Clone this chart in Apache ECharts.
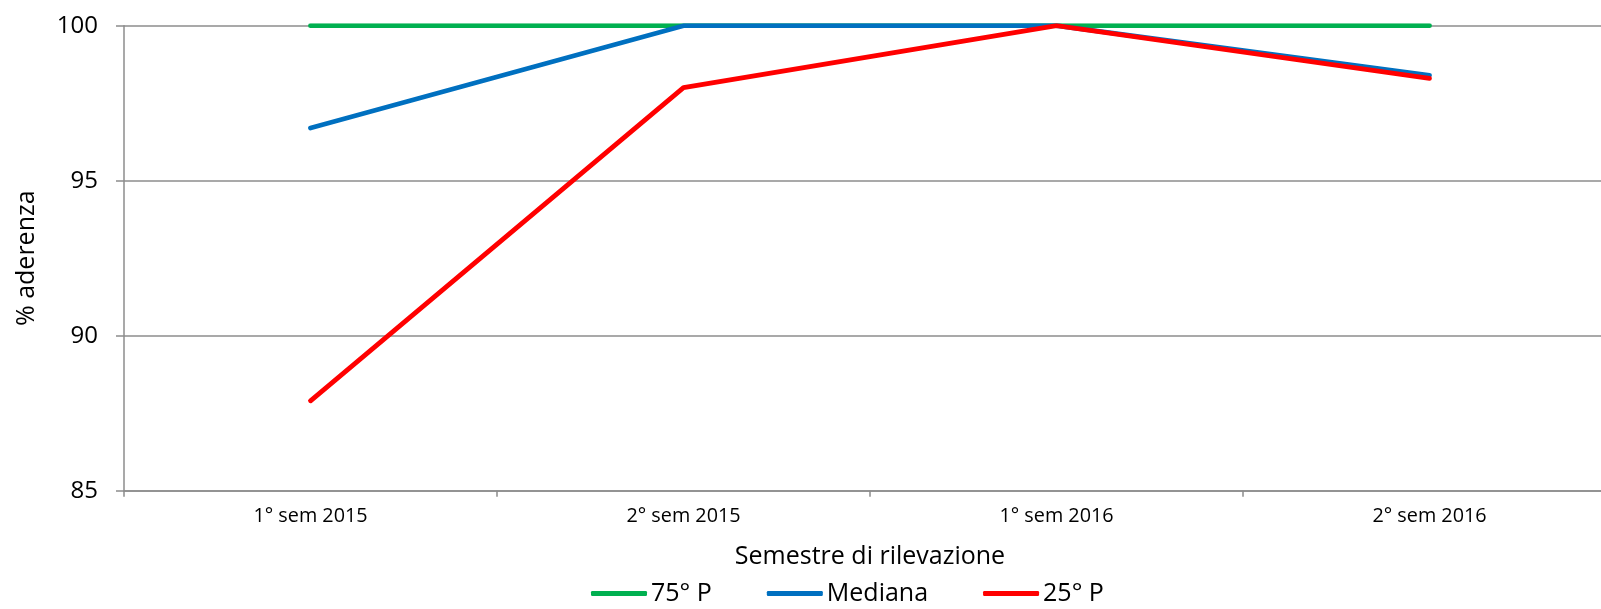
<!DOCTYPE html>
<html><head><meta charset="utf-8">
<script src="https://cdn.jsdelivr.net/npm/echarts@6/dist/echarts.min.js"></script>
<style>html,body{margin:0;padding:0;background:#fff}#c{width:1601px;height:609px}</style>
</head><body><div id="c"></div>
<script>
const categories = ['1° sem 2015', '2° sem 2015', '1° sem 2016', '2° sem 2016'];
const p75 = [100, 100, 100, 100];
const mediana = [96.7, 100, 100, 98.4];
const p25 = [87.9, 98.0, 100, 98.3];
const yTicks = [85, 90, 95, 100];
const seriesNames = ['75° P', 'Mediana', '25° P'];
const colors = ['#00B050', '#0070C0', '#FF0000'];

const font = '"Open Sans", "Noto Sans", sans-serif';
const chart = echarts.init(document.getElementById('c'));
const mk = (name, data, color, z) => ({
  name, type: 'line', data, showSymbol: false, symbol: 'none', z,
  lineStyle: { color, width: 4.8, cap: 'round', join: 'round' },
  itemStyle: { color }, emphasis: { disabled: true }, animation: false
});
chart.setOption({
  animation: false,
  grid: { left: 124, top: 25.7, width: 1492, height: 465, containLabel: false, outerBoundsMode: 'none' },
  xAxis: {
    type: 'category', data: categories, boundaryGap: true,
    name: 'Semestre di rilevazione', nameLocation: 'middle', nameGap: 54,
    nameTextStyle: { fontFamily: font, fontSize: 25, color: '#000' },
    axisLine: { lineStyle: { color: '#8c8c8c', width: 1.5 } },
    axisTick: { show: true, length: 6, lineStyle: { color: '#8c8c8c', width: 1.5 }, alignWithLabel: false },
    axisLabel: { fontFamily: font, fontSize: 19.8, color: '#000', margin: 16 }
  },
  yAxis: {
    type: 'value', min: yTicks[0], max: yTicks[yTicks.length - 1], interval: 5,
    name: '% aderenza', nameLocation: 'middle', nameGap: 85, nameRotate: 90,
    nameTextStyle: { fontFamily: font, fontSize: 25, color: '#000' },
    axisLine: { show: true, lineStyle: { color: '#8c8c8c', width: 1.5 } },
    axisTick: { show: true, length: 8, lineStyle: { color: '#8c8c8c', width: 1.5 } },
    axisLabel: { fontFamily: font, fontSize: 24, color: '#000', margin: 26 },
    splitLine: { show: true, lineStyle: { color: '#8c8c8c', width: 1.5 } }
  },
  legend: {
    data: seriesNames, left: 591, top: 581, padding: 0, itemWidth: 56, itemHeight: 5, itemGap: 55,
    icon: 'roundRect',
    textStyle: { fontFamily: font, fontSize: 25, color: '#000', padding: [0, 0, 0, -1] }
  },
  series: [mk(seriesNames[0], p75, colors[0], 2), mk(seriesNames[1], mediana, colors[1], 3), mk(seriesNames[2], p25, colors[2], 4)]
});
</script></body></html>
